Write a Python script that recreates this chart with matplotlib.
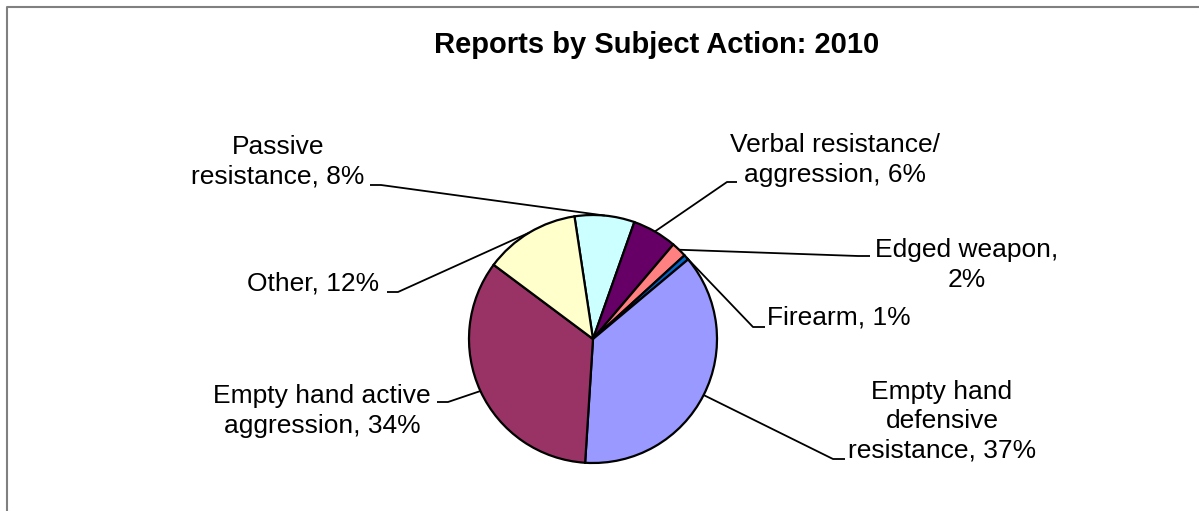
import numpy as np
import matplotlib.pyplot as plt

W, H = 1199, 511

# slices, clockwise starting just left of 12 o'clock
categories = ["Passive resistance", "Verbal resistance/aggression", "Edged weapon",
              "Firearm", "Empty hand defensive resistance",
              "Empty hand active aggression", "Other"]
shares = [7.8, 5.8, 2.0, 0.7, 37.1, 34.2, 12.4]
labels = ["Passive\nresistance, 8%", "Verbal resistance/\naggression, 6%",
          "Edged weapon,\n2%", "Firearm, 1%", "Empty hand\ndefensive\nresistance, 37%",
          "Empty hand active\naggression, 34%", "Other, 12%"]
colors = ["#CCFFFF", "#660066", "#FF8080", "#0066CC", "#9999FF", "#993366", "#FFFFCC"]

# label layout in pixel coords (y down): text center, leader end at text, elbow
text_pos = [(278, 162), (835, 160), (967, 265), (839, 318), (942, 421), (322, 411), (313, 283)]
leader_end = [(370, 185), (737, 182), (870, 256), (765, 327), (845, 459), (437, 402), (387, 292)]
leader_elbow = [(381, 185), (727, 182), (858, 256), (753, 327), (833, 459), (448, 402), (398, 292)]

CX, CY, R = 593, 339, 124
FONT = "Liberation Sans"


def fy(y):
    return H - y


fig = plt.figure(figsize=(W / 100, H / 100), dpi=100)
ax = fig.add_axes([0, 0, 1, 1])

wedges, _ = ax.pie(
    shares,
    colors=colors,
    startangle=98.6,
    counterclock=False,
    center=(CX, fy(CY)),
    radius=R,
    wedgeprops=dict(edgecolor="black", linewidth=1.6),
)

for w, lab, tp, le, el in zip(wedges, labels, text_pos, leader_end, leader_elbow):
    mid = np.deg2rad((w.theta1 + w.theta2) / 2)
    ax_x = CX + R * np.cos(mid)
    ax_y = fy(CY) + R * np.sin(mid)
    ax.plot([ax_x, el[0], le[0]], [ax_y, fy(el[1]), fy(le[1])],
            color="black", linewidth=1.3, solid_capstyle="butt")
    ax.text(tp[0], fy(tp[1]), lab, ha="center", va="center",
            fontsize=19, family=FONT, linespacing=1.28)

ax.set_xlim(0, W)
ax.set_ylim(0, H)
ax.axis("off")

fig.text(657 / W, 1 - 45 / H, "Reports by Subject Action: 2010", ha="center", va="center",
         fontsize=21, fontweight="bold", family=FONT)

# chart area border (only left and top edges fall inside the picture)
ax.plot([6.5, 6.5, W], [0, fy(7), fy(7)], color="#808080", linewidth=1.5, clip_on=False)

fig.savefig("out.png", dpi=100)
